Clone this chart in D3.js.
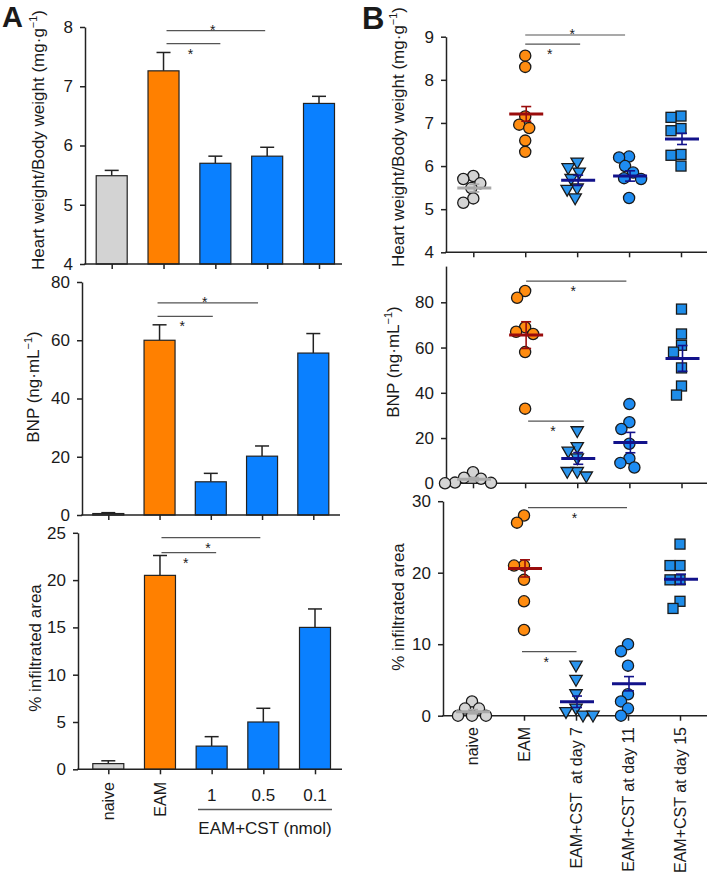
<!DOCTYPE html>
<html><head><meta charset="utf-8">
<script src="https://cdn.jsdelivr.net/npm/d3@7"></script>
<style>
body{margin:0;background:#fff}
svg{display:block}
text{font-family:Arial,"Liberation Sans",Helvetica,sans-serif;fill:#1a1a1a}
</style>
</head><body>
<svg id="c" width="709" height="884"></svg>
<script>
// ---------------- DATA ----------------
const groupsA = ["naive", "EAM", "1", "0.5", "0.1"];
const hwMeanA  = [5.49, 7.26, 5.70, 5.82, 6.71];
const hwErrA   = [0.09, 0.31, 0.12, 0.15, 0.12];
const bnpMeanA = [0.5, 60.0, 11.4, 20.2, 55.6];
const bnpErrA  = [0.3, 5.3, 2.9, 3.5, 6.7];
const infMeanA = [0.6, 20.5, 2.45, 5.0, 15.0];
const infErrA  = [0.3, 2.1, 1.0, 1.45, 1.95];
const hwTicksA  = [4, 5, 6, 7, 8];
const bnpTicksA = [0, 20, 40, 60, 80];
const infTicksA = [0, 5, 10, 15, 20, 25];

const groupsB = ["naive", "EAM", "EAM+CST  at day 7", "EAM+CST at day 11", "EAM+CST at day 15"];
// Heart weight / body weight (individual animals)
const hwNaiveB = [5.77, 5.70, 5.60, 5.49, 5.25, 5.15];
const hwEamB   = [8.56, 8.30, 7.15, 6.96, 6.88, 6.59, 6.33];
const hwD7B    = [6.08, 5.95, 5.85, 5.70, 5.48, 5.45, 5.25];
const hwD11B   = [6.22, 6.20, 6.00, 5.85, 5.72, 5.70, 5.26];
const hwD15B   = [7.16, 7.13, 6.87, 6.82, 6.27, 6.25, 6.00];
const hwMeanB  = [5.49, 7.21, 5.67, 5.77, 6.63];
const hwSemB   = [0.09, 0.17, 0.12, 0.12, 0.13];
// BNP
const bnpNaiveB = [4.9, 2.5, 2.0, 0.3, 0.2, 0.0];
const bnpEamB   = [85, 82, 69, 67, 66, 58, 33];
const bnpD7B    = [23, 16, 14, 11, 5, 5, 3];
const bnpD11B   = [35, 27, 24, 17.5, 11, 9, 7];
const bnpD15B   = [77, 66, 61, 58, 51, 43, 39];
const bnpMeanB  = [1.8, 65.5, 11.0, 18.0, 55.2];
const bnpSemB   = [0.8, 5.9, 2.6, 4.5, 5.7];
// % infiltrated area
const infNaiveB = [2, 1, 1, 0, 0, 0];
const infEamB   = [28, 27, 21, 21, 19, 16, 12];
const infD7B    = [7, 5, 3, 1, 0.5, 0, 0];
const infD11B   = [10, 9, 7, 3, 2, 1, 0];
const infD15B   = [24, 21, 21, 19, 19, 16, 15];
const infMeanB  = [0.56, 20.6, 1.95, 4.47, 19.1];
const infSemB   = [0.3, 1.2, 0.8, 1.0, 0.7];
const hwTicksB  = [4, 5, 6, 7, 8, 9];
const bnpTicksB = [0, 20, 40, 60, 80];
const infTicksB = [0, 10, 20, 30];

// ---------------- STYLE / LAYOUT ----------------
const svg = d3.select("#c");
const AX = "#222";
const barColors = ["#d3d3d3", "#ff8000", "#0a80ff", "#0a80ff", "#0a80ff"];
const ptColors  = ["#d4d4d4", "#ff8c10", "#2b95ee", "#1e8cf2", "#1e8ce8"];
const meanColors = ["#a8a8a8", "#9a0c0c", "#12128a", "#12128a", "#12128a"];
const shapes = ["circle", "circle", "tri", "circle", "square"];

function yAxis(scale, x0, ticks) {
  const ax = svg.append("g").attr("transform", `translate(${x0},0)`)
    .call(d3.axisLeft(scale).tickValues(ticks).tickFormat(d3.format("d"))
      .tickSize(5).tickPadding(7).tickSizeOuter(0));
  ax.attr("font-family", null).attr("font-size", null);
  ax.selectAll("text").style("font-size", "17px").attr("fill", "#1a1a1a");
  ax.selectAll("path,line").attr("stroke", AX).attr("stroke-width", 1.5);
}
function xAxis(scale, x0, x1, y0) {
  svg.append("line").attr("x1", x0 - 0.75).attr("x2", x1).attr("y1", y0).attr("y2", y0)
    .attr("stroke", AX).attr("stroke-width", 1.5);
  const ax = svg.append("g").attr("transform", `translate(0,${y0})`)
    .call(d3.axisBottom(scale).tickSize(5).tickFormat(""));
  ax.select(".domain").remove();
  ax.selectAll("line").attr("stroke", AX).attr("stroke-width", 1.5);
}
function yTitle(x, y, main, sup, tail) {
  const t = svg.append("text").attr("transform", `translate(${x},${y}) rotate(-90)`)
    .attr("text-anchor", "middle").attr("dy", "0.35em").style("font-size", "17px");
  t.append("tspan").text(main);
  if (sup) {
    t.append("tspan").text(sup).attr("dy", -7).style("font-size", "11px");
    t.append("tspan").text(tail).attr("dy", 7);
  }
}
function sig(xs, ys, s) {
  const x1 = xs(s.from) + s.d1, x2 = xs(s.to) + s.d2, y = ys(s.level);
  svg.append("line").attr("x1", x1).attr("x2", x2).attr("y1", y).attr("y2", y)
    .attr("stroke", "#555").attr("stroke-width", 1.2);
  const cy = s.star === "above" ? y - 4 : y + 7;
  svg.append("text").attr("x", (x1 + x2) / 2 - 3).attr("y", cy + 8)
    .attr("text-anchor", "middle").style("font-size", "14px").text("*");
}

function barPanel(o) {
  const y = d3.scaleLinear().domain(o.domain).range([o.yBot, o.yTop]);
  const x = d3.scalePoint().domain(groupsA).range([o.c0, o.c1]);
  const bw = 31;
  groupsA.forEach((g, i) => {
    const m = o.means[i], e = o.errs[i];
    const xc = x(g);
    svg.append("line").attr("x1", xc).attr("x2", xc).attr("y1", y(m)).attr("y2", y(m + e))
      .attr("stroke", AX).attr("stroke-width", 1.5);
    svg.append("line").attr("x1", xc - 7).attr("x2", xc + 7).attr("y1", y(m + e)).attr("y2", y(m + e))
      .attr("stroke", AX).attr("stroke-width", 1.5);
    svg.append("rect").attr("x", xc - bw / 2).attr("width", bw)
      .attr("y", y(m)).attr("height", y(o.domain[0]) - y(m))
      .attr("fill", barColors[i]).attr("stroke", AX).attr("stroke-width", 1.2);
  });
  yAxis(y, o.x0, o.ticks);
  xAxis(x, o.x0, o.x1, o.yBot);
  yTitle(o.tx, o.ty, o.title, o.sup, o.tail);
  o.sigs.forEach(s => sig(g => x(groupsA[g]), y, s));
  return x;
}

function dodge(vals, ys, minD) {
  const placed = [];
  return vals.map(v => {
    const py = ys(v);
    for (let k = 0; k < 80; k++) {
      const off = (k % 2 ? -1 : 1) * Math.ceil(k / 2);
      if (placed.every(p => Math.hypot(p.x - off, p.y - py) >= minD)) {
        placed.push({x: off, y: py});
        return off;
      }
    }
    return 0;
  });
}

function marker(shape, cx, cy, fill) {
  let el;
  if (shape === "circle") {
    el = svg.append("circle").attr("cx", cx).attr("cy", cy).attr("r", 5.6);
  } else if (shape === "square") {
    el = svg.append("rect").attr("x", cx - 5).attr("y", cy - 5).attr("width", 10).attr("height", 10);
  } else {
    el = svg.append("path").attr("d", `M${cx - 6.2},${cy - 4.5}L${cx + 6.2},${cy - 4.5}L${cx},${cy + 6.3}Z`);
  }
  el.attr("fill", fill).attr("stroke", "#1a1a1a").attr("stroke-width", 1.3);
}

function scatterPanel(o) {
  const y = d3.scaleLinear().domain(o.domain).range([o.yBot, o.yTop]);
  const x = d3.scalePoint().domain(groupsB).range([o.c0, o.c1]);
  yAxis(y, o.x0, o.ticks);
  xAxis(x, o.x0, o.x1, o.yBot);
  groupsB.forEach((g, i) => {
    const vals = o.points[i];
    const offs = dodge(vals, y, 10);
    vals.forEach((v, j) => marker(shapes[i], x(g) + offs[j], y(v), ptColors[i]));
  });
  groupsB.forEach((g, i) => {
    const xc = x(g) + 1, m = o.means[i], s = o.sems[i];
    const c = meanColors[i];
    svg.append("line").attr("x1", xc).attr("x2", xc).attr("y1", y(m - s)).attr("y2", y(m + s))
      .attr("stroke", c).attr("stroke-width", 1.6);
    [m - s, m + s].forEach(v => svg.append("line").attr("x1", xc - 5).attr("x2", xc + 5)
      .attr("y1", y(v)).attr("y2", y(v)).attr("stroke", c).attr("stroke-width", 1.6));
    svg.append("line").attr("x1", xc - 17).attr("x2", xc + 17).attr("y1", y(m)).attr("y2", y(m))
      .attr("stroke", c).attr("stroke-width", 3);
  });
  yTitle(o.tx, o.ty, o.title, o.sup, o.tail);
  o.sigs.forEach(s => sig(g => x(groupsB[g]), y, s));
  return x;
}

// ---------------- PANEL A ----------------
barPanel({means: hwMeanA, errs: hwErrA, domain: [4, 8], ticks: hwTicksA,
  x0: 85, x1: 342, yBot: 264, yTop: 27, c0: 111.7, c1: 319,
  tx: 38, ty: 140, title: "Heart weight/Body weight (mg\u00b7g", sup: "\u22121", tail: ")",
  sigs: [{from: 1, to: 3, level: 7.94, d1: 3, d2: -2, star: "above"},
         {from: 1, to: 2, level: 7.72, d1: 3, d2: 5, star: "below"}]});
barPanel({means: bnpMeanA, errs: bnpErrA, domain: [0, 80], ticks: bnpTicksA,
  x0: 82, x1: 340, yBot: 515, yTop: 282, c0: 108.3, c1: 313.3,
  tx: 33, ty: 387, title: "BNP (ng\u00b7mL", sup: "\u22121", tail: ")",
  sigs: [{from: 1, to: 3, level: 72.8, d1: -2, d2: -4, star: "above"},
         {from: 1, to: 2, level: 68.2, d1: -2, d2: 2, star: "below"}]});
const xA3 = barPanel({means: infMeanA, errs: infErrA, domain: [0, 25], ticks: infTicksA,
  x0: 78, x1: 342, yBot: 769.3, yTop: 532.8, c0: 108.3, c1: 315,
  tx: 35, ty: 648, title: "% infiltrated area",
  sigs: [{from: 1, to: 3, level: 24.5, d1: 1.5, d2: -3, star: "below"},
         {from: 1, to: 2, level: 22.9, d1: 1.5, d2: 4.5, star: "below"}]});

// A category labels
["naive", "EAM"].forEach(g => {
  svg.append("text").attr("transform", `translate(${xA3(g)},782) rotate(-90)`)
    .attr("text-anchor", "end").attr("dy", "0.35em").style("font-size", "16px").text(g);
});
["1", "0.5", "0.1"].forEach(g => {
  svg.append("text").attr("x", xA3(g)).attr("y", 801).attr("text-anchor", "middle")
    .style("font-size", "17px").text(g);
});
svg.append("line").attr("x1", 198).attr("x2", 332).attr("y1", 809.5).attr("y2", 809.5)
  .attr("stroke", "#555").attr("stroke-width", 1.3);
svg.append("text").attr("x", 265).attr("y", 834).attr("text-anchor", "middle")
  .style("font-size", "17px").text("EAM+CST (nmol)");

// ---------------- PANEL B ----------------
scatterPanel({points: [hwNaiveB, hwEamB, hwD7B, hwD11B, hwD15B], means: hwMeanB, sems: hwSemB,
  domain: [4, 9], ticks: hwTicksB, x0: 446, x1: 707, yBot: 252.3, yTop: 36.7, c0: 473.3, c1: 681,
  tx: 398, ty: 137, title: "Heart weight/Body weight (mg\u00b7g", sup: "\u22121", tail: ")",
  sigs: [{from: 1, to: 3, level: 9.04, d1: 0, d2: -4, star: "above"},
         {from: 1, to: 2, level: 8.83, d1: 0, d2: 3, star: "below"}]});
scatterPanel({points: [bnpNaiveB, bnpEamB, bnpD7B, bnpD11B, bnpD15B], means: bnpMeanB, sems: bnpSemB,
  domain: [0, 96], ticks: bnpTicksB, x0: 446, x1: 707, yBot: 483.3, yTop: 266.1, c0: 473, c1: 681.5,
  tx: 393, ty: 362, title: "BNP (ng\u00b7mL", sup: "\u22121", tail: ")",
  sigs: [{from: 1, to: 3, level: 89.4, d1: 1, d2: -3, star: "below"},
         {from: 1, to: 2, level: 27.5, d1: 3, d2: 6.5, star: "below"}]});
const xB3 = scatterPanel({points: [infNaiveB, infEamB, infD7B, infD11B, infD15B], means: infMeanB, sems: infSemB,
  domain: [0, 30], ticks: infTicksB, x0: 443, x1: 707, yBot: 715.7, yTop: 501.2, c0: 472, c1: 680,
  tx: 398, ty: 607, title: "% infiltrated area",
  sigs: [{from: 1, to: 3, level: 29.1, d1: 4, d2: -1, star: "below"},
         {from: 1, to: 2, level: 8.95, d1: -2, d2: 0.5, star: "below"}]});

groupsB.forEach(g => {
  svg.append("text").attr("xml:space", "preserve")
    .attr("transform", `translate(${xB3(g)},727) rotate(-90)`)
    .attr("text-anchor", "end").attr("dy", "0.35em").style("font-size", "16px")
    .style("white-space", "pre").text(g);
});

// Panel letters
svg.append("text").attr("x", 2).attr("y", 27).style("font-size", "29px").style("font-weight", "bold").text("A");
svg.append("text").attr("x", 362).attr("y", 29).style("font-size", "31px").style("font-weight", "bold").text("B");
</script>
</body></html>
